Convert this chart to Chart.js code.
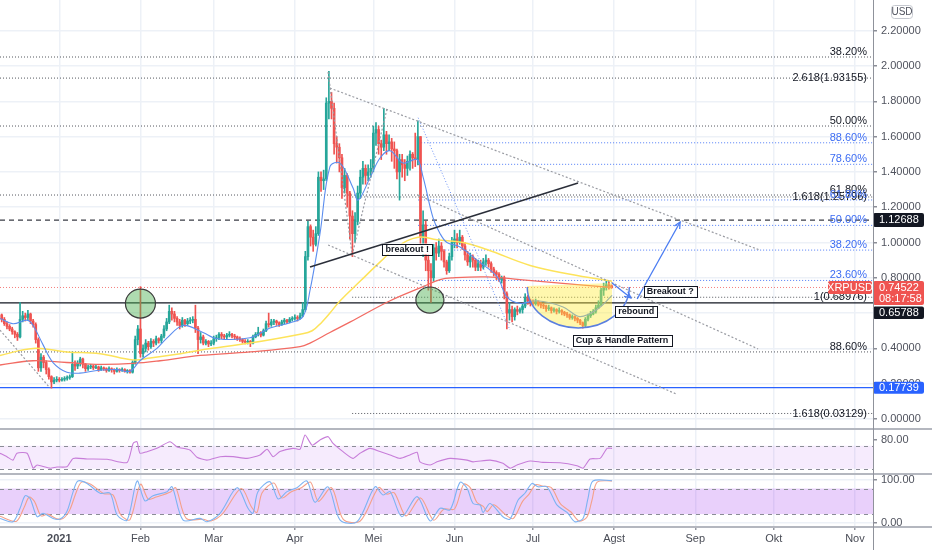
<!DOCTYPE html>
<html>
<head>
<meta charset="utf-8">
<title>XRPUSD</title>
<script src="https://cdn.jsdelivr.net/npm/chart.js@4.4.1/dist/chart.umd.min.js"></script>
<style>
  html, body { margin:0; padding:0; background:#ffffff; }
  #wrap { position:relative; width:932px; height:550px; overflow:hidden; background:#fff; }
  #wrap canvas { position:absolute; left:0; }
  .sep { position:absolute; left:0; width:932px; height:2px; background:#b4b7bf; }
  #vline { position:absolute; left:873px; top:0; width:1px; height:550px; background:#8f929b; }
</style>
</head>
<body>
<div id="wrap">
  <canvas id="cMain" width="932" height="428" style="top:0px"></canvas>
  <canvas id="cRsi" width="932" height="43" style="top:430px"></canvas>
  <canvas id="cSto" width="932" height="75" style="top:475px"></canvas>
  <div class="sep" style="top:428px"></div>
  <div class="sep" style="top:473px"></div>
  <div class="sep" style="top:526px"></div>
  <div id="vline"></div>
</div>
<script>
// ---------------- DATA ----------------
// day numbers are days from 1 Jan 2021 (0 = 1 Jan 2021)
const firstDay = -22;          // 10 Dec 2020
const firstOpen = 0.59;
const closes = [
  0.565,0.54,0.525,0.51,0.495,0.48,0.465,0.565,0.585,0.575,
  0.595,0.555,0.535,0.45,0.29,0.35,0.32,0.28,0.24,0.21,
  0.22,0.225,0.22,0.225,0.23,0.235,0.24,0.31,0.30,0.315,
  0.34,0.31,0.285,0.295,0.30,0.29,0.295,0.28,0.29,0.285,
  0.275,0.285,0.28,0.27,0.28,0.275,0.28,0.27,0.275,0.265,
  0.32,0.45,0.51,0.37,0.40,0.43,0.41,0.44,0.43,0.455,
  0.445,0.47,0.51,0.55,0.61,0.595,0.57,0.55,0.53,0.56,
  0.54,0.555,0.56,0.565,0.515,0.45,0.465,0.43,0.44,0.425,
  0.43,0.455,0.46,0.48,0.47,0.465,0.475,0.48,0.47,0.465,
  0.455,0.45,0.44,0.435,0.44,0.43,0.465,0.48,0.49,0.475,
  0.50,0.54,0.535,0.55,0.555,0.545,0.535,0.55,0.56,0.55,
  0.565,0.57,0.575,0.57,0.585,0.62,0.92,1.09,1.03,0.99,
  1.05,1.37,1.35,1.36,1.79,1.80,1.76,1.56,1.54,1.48,
  1.31,1.38,1.28,1.15,1.05,1.12,1.28,1.37,1.42,1.38,
  1.40,1.42,1.62,1.64,1.56,1.54,1.61,1.56,1.57,1.53,
  1.52,1.40,1.47,1.44,1.42,1.46,1.50,1.48,1.47,1.60,
  1.03,1.10,0.90,0.84,0.80,0.97,0.94,0.98,0.95,0.89,
  0.84,0.92,1.00,1.02,1.00,1.03,0.98,0.93,0.89,0.92,
  0.90,0.86,0.88,0.86,0.89,0.90,0.88,0.85,0.83,0.82,
  0.79,0.80,0.71,0.60,0.62,0.58,0.62,0.61,0.62,0.64,
  0.69,0.67,0.665,0.655,0.665,0.65,0.645,0.64,0.625,0.63,
  0.615,0.62,0.61,0.615,0.605,0.595,0.59,0.575,0.58,0.57,
  0.56,0.545,0.53,0.565,0.585,0.595,0.61,0.63,0.645,0.73,
  0.745,0.76,0.755,0.745
];
const highs = [
  0.595,0.575,0.55,0.535,0.52,0.50,0.49,0.66,0.61,0.60,
  0.615,0.60,0.565,0.545,0.46,0.37,0.36,0.33,0.29,0.245,
  0.235,0.24,0.235,0.235,0.24,0.245,0.25,0.38,0.33,0.33,
  0.35,0.345,0.315,0.305,0.31,0.305,0.305,0.30,0.30,0.295,
  0.29,0.295,0.29,0.285,0.29,0.285,0.29,0.285,0.28,0.28,
  0.33,0.47,0.53,0.75,0.42,0.45,0.44,0.455,0.45,0.47,
  0.46,0.48,0.53,0.57,0.645,0.63,0.61,0.58,0.565,0.575,
  0.565,0.57,0.575,0.58,0.645,0.525,0.49,0.475,0.45,0.445,
  0.445,0.47,0.475,0.49,0.49,0.48,0.485,0.495,0.485,0.48,
  0.47,0.465,0.455,0.45,0.45,0.445,0.475,0.49,0.52,0.495,
  0.51,0.555,0.60,0.565,0.565,0.56,0.55,0.56,0.57,0.565,
  0.575,0.58,0.59,0.585,0.60,0.66,0.95,1.12,1.10,1.07,
  1.09,1.40,1.40,1.41,1.82,1.97,1.85,1.79,1.60,1.56,
  1.50,1.42,1.39,1.29,1.18,1.17,1.32,1.41,1.46,1.44,
  1.44,1.47,1.66,1.68,1.66,1.58,1.76,1.63,1.61,1.59,
  1.57,1.53,1.50,1.50,1.47,1.49,1.52,1.51,1.62,1.69,
  1.60,1.18,1.12,0.93,0.88,0.99,1.00,1.02,1.00,0.96,
  0.90,0.94,1.03,1.07,1.05,1.07,1.04,1.00,0.95,0.94,
  0.93,0.91,0.90,0.90,0.91,0.93,0.91,0.89,0.86,0.84,
  0.83,0.81,0.81,0.72,0.66,0.64,0.63,0.64,0.63,0.65,
  0.71,0.70,0.68,0.675,0.68,0.67,0.66,0.655,0.645,0.645,
  0.635,0.63,0.625,0.63,0.62,0.61,0.605,0.595,0.59,0.585,
  0.575,0.565,0.55,0.575,0.595,0.61,0.62,0.645,0.67,0.74,
  0.77,0.785,0.775,0.76
];
const lows = [
  0.55,0.53,0.51,0.50,0.48,0.46,0.445,0.46,0.55,0.555,
  0.56,0.54,0.52,0.43,0.27,0.27,0.29,0.255,0.225,0.175,
  0.20,0.21,0.21,0.215,0.215,0.22,0.225,0.235,0.275,0.285,
  0.30,0.29,0.27,0.275,0.285,0.28,0.285,0.27,0.275,0.275,
  0.265,0.27,0.265,0.255,0.265,0.265,0.27,0.265,0.26,0.26,
  0.26,0.31,0.42,0.35,0.35,0.38,0.39,0.40,0.41,0.42,
  0.43,0.43,0.46,0.50,0.54,0.56,0.55,0.53,0.51,0.52,
  0.525,0.53,0.54,0.545,0.49,0.37,0.43,0.42,0.42,0.41,
  0.415,0.42,0.44,0.45,0.455,0.45,0.455,0.465,0.46,0.45,
  0.445,0.44,0.43,0.425,0.425,0.41,0.425,0.46,0.47,0.465,
  0.47,0.495,0.52,0.525,0.535,0.53,0.525,0.53,0.54,0.54,
  0.545,0.555,0.56,0.555,0.565,0.58,0.61,0.90,0.98,0.95,
  0.98,1.04,1.29,1.30,1.35,1.70,1.70,1.50,1.45,1.40,
  1.25,1.28,1.20,1.02,0.92,1.00,1.10,1.25,1.33,1.33,
  1.35,1.37,1.40,1.55,1.50,1.47,1.52,1.50,1.52,1.46,
  1.42,1.36,1.24,1.37,1.35,1.38,1.41,1.42,1.43,1.44,
  0.96,0.92,0.84,0.73,0.66,0.78,0.90,0.92,0.90,0.86,
  0.82,0.83,0.90,0.97,0.97,0.99,0.96,0.90,0.87,0.86,
  0.86,0.84,0.84,0.84,0.85,0.87,0.86,0.83,0.81,0.79,
  0.78,0.77,0.68,0.51,0.56,0.55,0.56,0.59,0.60,0.60,
  0.63,0.65,0.64,0.645,0.645,0.64,0.63,0.625,0.61,0.615,
  0.60,0.605,0.595,0.60,0.59,0.585,0.575,0.565,0.565,0.555,
  0.545,0.535,0.515,0.52,0.555,0.575,0.59,0.60,0.625,0.64,
  0.70,0.73,0.735,0.74
];

const monthTicks  = [0, 31, 59, 90, 120, 151, 181, 212, 243, 273, 304];
const monthLabels = ['2021','Feb','Mar','Apr','Mei','Jun','Jul','Agst','Sep','Okt','Nov'];
const priceTicks  = [0, 0.2, 0.4, 0.6, 0.8, 1.0, 1.2, 1.4, 1.6, 1.8, 2.0, 2.2];
const rsiTicks    = [80];
const stochTicks  = [0, 100];

// moving averages: [day, price]
const emaFast = [[-22.66,0.57],[-17.7,0.54],[-12.3,0.56],[-10,0.53],[-6.2,0.42],[-2.4,0.32],[2.9,0.265],[7.9,0.26],[14.4,0.275],[22.1,0.28],[27,0.27],[30.8,0.33],[37.3,0.40],[41.2,0.46],[47.3,0.53],[54.9,0.49],[60.3,0.455],[72.9,0.46],[80.5,0.515],[88.2,0.545],[93.1,0.58],[95.8,0.73],[99.6,1.05],[103.4,1.43],[107.3,1.45],[112.2,1.31],[114.2,1.24],[118.8,1.37],[122.6,1.48],[126.4,1.52],[131.3,1.45],[136.7,1.47],[139,1.37],[142.8,1.14],[145.5,1.05],[148.1,1.0],[153.1,0.975],[159.6,0.90],[167.3,0.805],[171.1,0.69],[176,0.655],[182.5,0.67],[192.5,0.635],[198.9,0.58],[205.4,0.62],[211.2,0.70]];
const smaMid = [[-22.66,0.36],[-10,0.40],[2.9,0.38],[15.6,0.37],[28.2,0.335],[34.7,0.345],[44.2,0.365],[53.8,0.39],[72.9,0.43],[92,0.48],[96.6,0.50],[100.4,0.55],[103.4,0.60],[107.3,0.67],[114.9,0.78],[122.6,0.89],[129,0.975],[137.1,1.03],[144.3,1.015],[154.3,1.0],[163.4,0.96],[179.9,0.87],[195.2,0.82],[211.2,0.78]];
const smaSlow = [[-22.66,0.306],[-10,0.33],[2.9,0.32],[15.6,0.31],[28.2,0.315],[38.5,0.33],[53.8,0.36],[72.9,0.38],[92,0.41],[95.8,0.43],[103.4,0.49],[111.2,0.55],[126.4,0.67],[139,0.75],[145.5,0.79],[150.4,0.80],[163.4,0.805],[176,0.79],[191.3,0.77],[211.2,0.745]];

// RSI and Stochastic: [day, value]
const rsiLine = [[-22.66,56.9],[-20,51],[-17.7,45],[-16.2,57],[-12.3,57],[-10,31],[-8.5,36.5],[-3.6,31],[-0.9,33],[2.9,33.6],[5.3,48],[10.6,47],[18.3,46.4],[25.9,41],[28.2,74],[29.7,77],[30.8,57],[33.5,59.7],[37.3,65.5],[42.3,77],[45,68],[49.9,62.6],[52.6,50],[56.4,45],[61.4,51],[66.4,51],[71.7,48],[76.7,54],[79.4,64],[81.7,51],[84.3,60],[89.3,65.5],[92,64],[93.9,88.7],[96.6,71],[99.6,80],[102.7,85.8],[104.6,74],[108.4,59.7],[112.2,48],[114.9,57],[118.7,65.5],[122.5,60],[126.4,54],[130.2,48],[134,54],[136.7,58.6],[137.8,42],[141.7,36.5],[144.3,42],[149.3,48],[155.8,45],[158.1,42],[164.6,45],[169.5,39.5],[172.2,31],[174.9,36.5],[179.9,43.5],[184.8,41],[191.3,40.5],[197.8,35.3],[200.1,31],[202.8,47],[206.6,48],[209.3,65.5],[211.2,65.5]];
const stochK = [[-22.66,10],[-17.7,2.4],[-15,33.7],[-13.1,63],[-11.2,57],[-8.5,14],[-6.2,22],[-2.4,10],[0.3,8.6],[2.9,26],[5.3,72.7],[7.1,97.6],[10.6,92],[15.6,69],[19.4,69],[22.1,18],[25.9,6],[29.7,97.6],[32.7,51],[35.8,63],[41.2,72.7],[43.1,84],[47.3,6],[53.8,10],[56.4,2.4],[61.4,22],[67.9,82],[72.1,33.7],[74,22],[75.9,72.7],[80.5,96],[83.6,55.6],[87,72.7],[90.8,82],[94.6,97.6],[97.7,47.7],[102.7,84],[107.3,6],[113.8,2.4],[120.6,84],[123.7,65],[126.4,72.7],[130.9,14],[136.7,61],[141.7,4],[145.5,33.7],[149.3,30],[153.1,94.6],[155.8,80.5],[158.1,45],[160.8,41],[161.9,24],[164.6,45],[169.5,14],[172.2,8.6],[175.3,53],[177.9,69],[180.6,92],[182.9,84],[186.3,84],[190.2,41],[194,24],[197,2.4],[200.1,10],[202,57],[203.9,97.6],[211.2,98.4]];
const stochD = [[-22.66,15],[-16.5,3],[-13.5,35],[-11.5,60],[-9.5,50],[-7,16],[-4.5,20],[-1,9],[1.5,10],[4,30],[6.5,72],[8.5,95],[12,90],[17,68],[20.5,65],[23.5,18],[27,7],[31,90],[34,55],[37,60],[42.5,72],[44.5,82],[48.5,10],[55,8],[58,4],[62.5,22],[69.5,80],[73.5,36],[75.5,24],[77.5,70],[82,93],[85,58],[88.5,72],[92.5,82],[96,95],[99,50],[104,82],[108.5,8],[115,4],[122,82],[125,67],[128,70],[132.5,16],[138,58],[143,6],[147,32],[151,32],[154.5,90],[157,82],[159.5,48],[162,38],[163.5,26],[166,42],[171,16],[173.5,10],[177,50],[179.5,67],[182,89],[184.5,86],[188,82],[191.5,44],[195.5,25],[198.5,4],[201.5,12],[203.5,52],[205.5,95],[211.2,98]];
const rsiBand = [30, 70];
const stochBand = [20, 80];

// price levels
const resistanceLevel = 1.12688;
const lastPrice = 0.74522;
const supportLevel = 0.65788;
const lowLevel = 0.17739;

// Fibonacci levels: [price, label, first day, label placement]
const fibBlack = [
  [2.051, '38.20%', -22.66, 'above'],
  [1.93155, '2.618(1.93155)', -22.66, 'on'],
  [1.660, '50.00%', -22.66, 'above'],
  [1.269, '61.80%', -22.66, 'above'],
  [1.25796, '1.618(1.25796)', 111.9, 'on'],
  [0.68976, '1(0.68976)', 111.9, 'on'],
  [0.380, '88.60%', -22.66, 'above'],
  [0.03129, '1.618(0.03129)', 111.9, 'on']
];
const fibBlue = [
  [1.565, '88.60%'], [1.443, '78.60%'], [1.241, '61.80%'],
  [1.097, '50.00%'], [0.957, '38.20%'], [0.785, '23.60%']
];
const fibBlueStart = 137.1;
const fibBlueTrend = [[137.1, 1.707], [172.2, 0.504]];

// drawings: [[day, price], [day, price]]
const breakoutLine = [[95.8, 0.861], [198.2, 1.337]];
const dottedLines = [
  [[103.4, 1.875], [267.7, 0.957]],
  [[137.1, 1.269], [267.0, 0.397]],
  [[102.7, 0.986], [235.7, 0.142]],
  [[-22.66, 0.504], [-3.55, 0.176]],
  [[102.7, 1.966], [111.9, 0.929]],
  [[111.9, 0.929], [125.3, 1.762]]
];
// ellipses: [day, price, radius days, radius price]
const circles = [[31.0, 0.654, 5.73, 0.082], [141.6, 0.674, 5.35, 0.074]];
// cup: centre day, centre price, radius days, radius price, top-left, top-right
const cup = { d: 198.3, p: 0.748, rd: 19.5, rp: 0.232, topLeft: [178.7, 0.754], topRight: [211.2, 0.771] };
const arrows = [[[211.2, 0.771], [218.4, 0.686]], [[220.8, 0.680], [237.2, 1.116]]];
const notes = [
  ['breakout !', 132.9, 0.963],
  ['Breakout ?', 233.4, 0.725],
  ['rebound', 220.4, 0.609],
  ['Cup & Handle Pattern', 215.0, 0.445]
];

// ---------------- STYLE / HELPERS ----------------
const FONT = '"Liberation Sans", Arial, sans-serif';
const X_MIN = -22.66, X_MAX = 310.9;
const UP = '#26a69a', DOWN = '#ef5350';
const GRID = '#edf1f7';
const toXY = arr => arr.map(([x, y]) => ({ x, y }));

const opens = closes.map((c, i) => i === 0 ? firstOpen : closes[i - 1]);
const days = closes.map((c, i) => firstDay + i);
const candleColors = closes.map((c, i) => c >= opens[i] ? UP : DOWN);
const bodyData = days.map((d, i) => ({ x: d, y: [opens[i], closes[i]] }));
const wickData = days.map((d, i) => ({ x: d, y: [lows[i], highs[i]] }));

function xAxis(show) {
  return {
    type: 'linear', min: X_MIN, max: X_MAX, offset: false,
    afterBuildTicks: s => { s.ticks = monthTicks.map(v => ({ value: v })); },
    afterFit: s => { s.height = show ? 23 : 0; s.paddingLeft = 0; s.paddingRight = 0; },
    grid: { color: GRID, lineWidth: 1.5, offset: false, drawTicks: show, tickLength: 3, tickColor: '#9598a1' },
    border: { display: false },
    ticks: {
      display: show, autoSkip: false, maxRotation: 0, padding: 2, color: '#4a4d57',
      font: ctx => ({ family: FONT, size: 11, weight: (ctx.tick && ctx.tick.value === 0) ? 'bold' : 'normal' }),
      callback: v => { const k = monthTicks.indexOf(v); return k >= 0 ? monthLabels[k] : ''; }
    }
  };
}
function yAxis(min, max, ticks, grid) {
  return {
    type: 'linear', position: 'right', min, max,
    afterBuildTicks: s => { s.ticks = ticks.map(v => ({ value: v })); },
    afterFit: s => { s.width = 59; s.paddingTop = 0; s.paddingBottom = 0; },
    grid: { color: GRID, lineWidth: 1.5, drawOnChartArea: grid, drawTicks: true, tickLength: 4, tickColor: '#8c8f98' },
    border: { display: false },
    ticks: { padding: 4, color: '#50535e', font: { family: FONT, size: 11 },
      callback: v => (ticks === priceTicks ? v.toFixed(5) : v.toFixed(2)) }
  };
}
const baseOptions = (x, y) => ({
  responsive: false, animation: false, events: [],
  layout: { padding: 0, autoPadding: false },
  plugins: { legend: { display: false }, tooltip: { enabled: false } },
  scales: { x, y }
});

function line(ctx, x1, y1, x2, y2, color, width, dash) {
  ctx.beginPath();
  ctx.strokeStyle = color; ctx.lineWidth = width; ctx.setLineDash(dash || []);
  ctx.moveTo(x1, y1); ctx.lineTo(x2, y2); ctx.stroke();
  ctx.setLineDash([]);
}
function rrect(ctx, x, y, w, h, r) {
  ctx.beginPath();
  ctx.moveTo(x + r, y); ctx.lineTo(x + w - r, y); ctx.quadraticCurveTo(x + w, y, x + w, y + r);
  ctx.lineTo(x + w, y + h - r); ctx.quadraticCurveTo(x + w, y + h, x + w - r, y + h);
  ctx.lineTo(x + r, y + h); ctx.quadraticCurveTo(x, y + h, x, y + h - r);
  ctx.lineTo(x, y + r); ctx.quadraticCurveTo(x, y, x + r, y); ctx.closePath();
}
function arrowHead(ctx, x1, y1, x2, y2, color) {
  const a = Math.atan2(y2 - y1, x2 - x1), L = 7;
  ctx.beginPath(); ctx.strokeStyle = color; ctx.lineWidth = 1.3;
  ctx.moveTo(x2 - L * Math.cos(a - 0.45), y2 - L * Math.sin(a - 0.45));
  ctx.lineTo(x2, y2);
  ctx.lineTo(x2 - L * Math.cos(a + 0.45), y2 - L * Math.sin(a + 0.45));
  ctx.stroke();
}

const LABEL_RIGHT = 867;
const mainDecor = {
  id: 'mainDecor',
  beforeDatasetsDraw(chart) {
    const { ctx, chartArea: a, scales: { x, y } } = chart;
    ctx.save();
    ctx.beginPath(); ctx.rect(a.left, a.top, a.width, a.height); ctx.clip();
    fibBlack.forEach(([p, , d0]) => line(ctx, x.getPixelForValue(d0), y.getPixelForValue(p), a.right, y.getPixelForValue(p), '#55585f', 1, [1, 2]));
    fibBlue.forEach(([p]) => line(ctx, x.getPixelForValue(fibBlueStart), y.getPixelForValue(p), a.right, y.getPixelForValue(p), '#4f7cf7', 1, [1, 2]));
    line(ctx, a.left, y.getPixelForValue(lastPrice), a.right, y.getPixelForValue(lastPrice), 'rgba(239,83,80,0.75)', 1, [1, 2]);
    line(ctx, a.left, y.getPixelForValue(resistanceLevel), a.right, y.getPixelForValue(resistanceLevel), '#3a3d45', 1.3, [5, 4]);
    line(ctx, a.left, y.getPixelForValue(supportLevel), a.right, y.getPixelForValue(supportLevel), '#131722', 1.3);
    line(ctx, a.left, y.getPixelForValue(lowLevel), a.right, y.getPixelForValue(lowLevel), '#2962ff', 1.3);
    ctx.restore();
  },
  afterDatasetsDraw(chart) {
    const { ctx, chartArea: a, scales: { x, y } } = chart;
    const P = ([d, p]) => [x.getPixelForValue(d), y.getPixelForValue(p)];
    ctx.save();
    ctx.beginPath(); ctx.rect(a.left, a.top, a.width, a.height); ctx.clip();
    dottedLines.forEach(([s, e]) => { const [x1, y1] = P(s), [x2, y2] = P(e); line(ctx, x1, y1, x2, y2, '#9a9ca3', 1.2, [2, 2]); });
    { const [x1, y1] = P(fibBlueTrend[0]), [x2, y2] = P(fibBlueTrend[1]); line(ctx, x1, y1, x2, y2, '#6d93f5', 1, [1, 2]); }
    { const [x1, y1] = P(breakoutLine[0]), [x2, y2] = P(breakoutLine[1]); line(ctx, x1, y1, x2, y2, '#2a2e39', 1.5); }
    circles.forEach(([d, p, rd, rp]) => {
      const cx = x.getPixelForValue(d), cy = y.getPixelForValue(p);
      const rx = Math.abs(x.getPixelForValue(d + rd) - cx), ry = Math.abs(y.getPixelForValue(p + rp) - cy);
      ctx.beginPath(); ctx.ellipse(cx, cy, rx, ry, 0, 0, Math.PI * 2);
      ctx.fillStyle = 'rgba(76,175,80,0.45)'; ctx.fill();
      ctx.strokeStyle = '#3d3d3d'; ctx.lineWidth = 1.2; ctx.stroke();
    });
    {
      const cx = x.getPixelForValue(cup.d), cy = y.getPixelForValue(cup.p);
      const rx = Math.abs(x.getPixelForValue(cup.d + cup.rd) - cx), ry = Math.abs(y.getPixelForValue(cup.p - cup.rp) - cy);
      const [tlx, tly] = P(cup.topLeft), [trx, try_] = P(cup.topRight);
      const tEnd = Math.acos(Math.max(-1, Math.min(1, (trx - cx) / rx)));
      ctx.beginPath();
      ctx.moveTo(tlx, tly);
      ctx.ellipse(cx, cy, rx, ry, 0, Math.PI, tEnd, true);
      ctx.lineTo(trx, try_);
      ctx.closePath();
      ctx.fillStyle = 'rgba(255,235,59,0.42)'; ctx.fill();
      ctx.beginPath(); ctx.ellipse(cx, cy, rx, ry, 0, Math.PI, 0, true);
      ctx.strokeStyle = '#5a7fe0'; ctx.lineWidth = 1.5; ctx.stroke();
    }
    arrows.forEach(([s, e]) => { const [x1, y1] = P(s), [x2, y2] = P(e); line(ctx, x1, y1, x2, y2, '#4a7cf2', 1.3); arrowHead(ctx, x1, y1, x2, y2, '#4a7cf2'); });
    ctx.restore();

    ctx.save();
    ctx.font = 'bold 9px ' + FONT; ctx.textAlign = 'center'; ctx.textBaseline = 'middle';
    notes.forEach(([t, d, p]) => {
      const cx = x.getPixelForValue(d), cy = y.getPixelForValue(p);
      const w = ctx.measureText(t).width + 6, h = 11;
      ctx.fillStyle = '#ffffff'; ctx.fillRect(cx - w / 2, cy - h / 2, w, h);
      ctx.strokeStyle = '#131722'; ctx.lineWidth = 1; ctx.strokeRect(Math.round(cx - w / 2) + 0.5, Math.round(cy - h / 2) + 0.5, Math.round(w), h);
      ctx.fillStyle = '#131722'; ctx.fillText(t, cx, cy + 0.5);
    });
    ctx.font = '11px ' + FONT; ctx.textAlign = 'right';
    fibBlack.forEach(([p, t, , mode]) => {
      const yy = y.getPixelForValue(p);
      ctx.fillStyle = '#131722';
      if (mode === 'on') { ctx.textBaseline = 'middle'; ctx.fillText(t, LABEL_RIGHT, yy); }
      else { ctx.textBaseline = 'alphabetic'; ctx.fillText(t, LABEL_RIGHT, yy - 2); }
    });
    ctx.textBaseline = 'alphabetic';
    fibBlue.forEach(([p, t]) => { ctx.fillStyle = '#3c6cf3'; ctx.fillText(t, LABEL_RIGHT, y.getPixelForValue(p) - 2); });
    ctx.restore();
  },
  afterDraw(chart) {
    const { ctx, chartArea: a, scales: { y } } = chart;
    const L = a.right;
    ctx.save();
    ctx.font = '11px ' + FONT; ctx.textBaseline = 'middle'; ctx.textAlign = 'left';
    const tag = (y0, h, bg, texts) => {
      ctx.fillStyle = bg; rrect(ctx, L, y0, 51, h, 2); ctx.fill();
      ctx.fillStyle = '#ffffff';
      texts.forEach((t, i) => ctx.fillText(t, L + 6, y0 + 6.5 + i * 11.5));
    };
    const yr = y.getPixelForValue(resistanceLevel);
    tag(yr - 7, 14, '#131722', [resistanceLevel.toFixed(5)]);
    const yl = y.getPixelForValue(lastPrice);
    tag(yl - 6.5, 24, '#ef5350', [lastPrice.toFixed(5), '08:17:58']);
    ctx.fillStyle = '#ef5350'; rrect(ctx, L - 45, yl - 6.5, 44, 13, 2); ctx.fill();
    ctx.fillStyle = '#ffffff'; ctx.textAlign = 'center'; ctx.fillText('XRPUSD', L - 23, yl);
    ctx.textAlign = 'left';
    tag(yl + 19, 12.5, '#131722', [supportLevel.toFixed(5)]);
    const yb = y.getPixelForValue(lowLevel);
    tag(yb - 6, 12, '#2962ff', [lowLevel.toFixed(5)]);
    ctx.strokeStyle = '#c5c8cf'; ctx.lineWidth = 1; rrect(ctx, 891.5, 5.5, 21, 13, 3); ctx.stroke();
    ctx.fillStyle = '#50535e'; ctx.font = '10px ' + FONT; ctx.textAlign = 'center'; ctx.fillText('USD', 902, 12.5);
    ctx.restore();
  }
};

const bandPlugin = (band, fill) => ({
  id: 'band',
  beforeDatasetsDraw(chart) {
    const { ctx, chartArea: a, scales: { y } } = chart;
    const y1 = y.getPixelForValue(band[1]), y2 = y.getPixelForValue(band[0]);
    ctx.save();
    ctx.fillStyle = fill; ctx.fillRect(a.left, y1, a.width, y2 - y1);
    line(ctx, a.left, Math.round(y1) + 0.5, a.right, Math.round(y1) + 0.5, '#8a8d96', 1, [4, 4]);
    line(ctx, a.left, Math.round(y2) + 0.5, a.right, Math.round(y2) + 0.5, '#8a8d96', 1, [4, 4]);
    ctx.restore();
  }
});

// ---------------- CHARTS ----------------
new Chart(document.getElementById('cMain'), {
  type: 'line',
  data: { datasets: [
    { type: 'line', data: toXY(emaFast), borderColor: '#5b8def', borderWidth: 1.1, pointRadius: 0, tension: 0.35, order: 1 },
    { type: 'line', data: toXY(smaMid), borderColor: '#fde35a', borderWidth: 1.5, pointRadius: 0, tension: 0.4, order: 2 },
    { type: 'line', data: toXY(smaSlow), borderColor: '#f26b63', borderWidth: 1.3, pointRadius: 0, tension: 0.4, order: 3 },
    { type: 'bar', data: bodyData, backgroundColor: candleColors, barThickness: 2, grouped: false, order: 4 },
    { type: 'bar', data: wickData, backgroundColor: candleColors, barThickness: 1, grouped: false, order: 5 }
  ] },
  options: baseOptions(xAxis(false), yAxis(-0.051, 2.374, priceTicks, true)),
  plugins: [mainDecor]
});

new Chart(document.getElementById('cRsi'), {
  type: 'line',
  data: { datasets: [
    { data: toXY(rsiLine), borderColor: '#c77dd9', borderWidth: 1.1, pointRadius: 0, tension: 0.2 }
  ] },
  options: baseOptions(xAxis(false), yAxis(22.6, 97.39, rsiTicks, false)),
  plugins: [bandPlugin(rsiBand, 'rgba(150,30,230,0.09)')]
});

new Chart(document.getElementById('cSto'), {
  type: 'line',
  data: { datasets: [
    { data: toXY(stochK), borderColor: '#7db3f3', borderWidth: 1.1, pointRadius: 0, tension: 0.3, order: 1 },
    { data: toXY(stochD), borderColor: '#f5a08a', borderWidth: 1.1, pointRadius: 0, tension: 0.3, order: 2 }
  ] },
  options: baseOptions(xAxis(true), yAxis(-10.1, 111.7, stochTicks, true)),
  plugins: [bandPlugin(stochBand, 'rgba(145,20,235,0.2)')]
});
</script>
</body>
</html>
